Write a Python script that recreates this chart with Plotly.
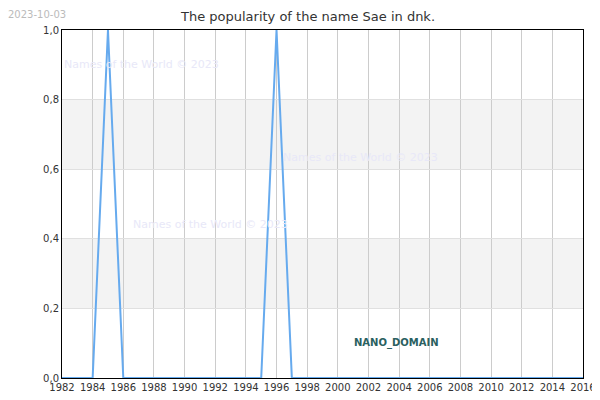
import plotly.graph_objects as go

years = list(range(1982, 2017))
popularity = [1.0 if y in (1985, 1996) else 0.0 for y in years]
x_ticks = list(range(1982, 2017, 2))
y_ticks = [0, 0.2, 0.4, 0.6, 0.8, 1.0]
y_labels = ["0,0", "0,2", "0,4", "0,6", "0,8", "1,0"]

fig = go.Figure()
fig.add_trace(go.Scatter(x=years, y=popularity, mode="lines",
                         line=dict(color="#66aaee", width=2), hoverinfo="skip"))
for lo, hi in [(0.2, 0.4), (0.6, 0.8)]:
    fig.add_hrect(y0=lo, y1=hi, fillcolor="#f3f3f3", line_width=0, layer="below")

fig.update_layout(
    width=600, height=400, margin=dict(l=54, r=15, t=22, b=30),
    plot_bgcolor="white", paper_bgcolor="white",
    font=dict(family="DejaVu Sans", size=10, color="#333"),
    showlegend=False,
    title=dict(text="The popularity of the name Sae in dnk.", x=0.5, y=0.99,
               yanchor="top", font=dict(size=13, color="#333")),
    xaxis=dict(range=[1982, 2016], tickvals=x_ticks, showgrid=True, gridcolor="#cccccc",
               showline=True, linecolor="black", mirror=True, ticks="", zeroline=False,
               tickfont=dict(size=10)),
    yaxis=dict(range=[0, 1], tickvals=y_ticks, ticktext=y_labels, showgrid=True,
               gridcolor="#e0e0e0", showline=True, linecolor="black", mirror=True,
               zeroline=False, tickfont=dict(size=10)),
)
fig.add_annotation(text="2023-10-03", xref="paper", yref="paper", x=0, y=1,
                   xshift=-56, yshift=23, xanchor="left", yanchor="top", showarrow=False,
                   font=dict(size=10, color="#bbbbbb"))
for tx, ty in [(1987.2, 0.9), (1991.7, 0.44), (2001.5, 0.635)]:
    fig.add_annotation(text="Names of the World © 2023", x=tx, y=ty, xanchor="center",
                       showarrow=False, font=dict(size=11, color="#e8e8f8"))
fig.add_annotation(text="<b>NANO_DOMAIN</b>", x=2003.8, y=0.1, showarrow=False,
                   font=dict(size=10, color="#2a6060"))
fig.write_html("out.html")
